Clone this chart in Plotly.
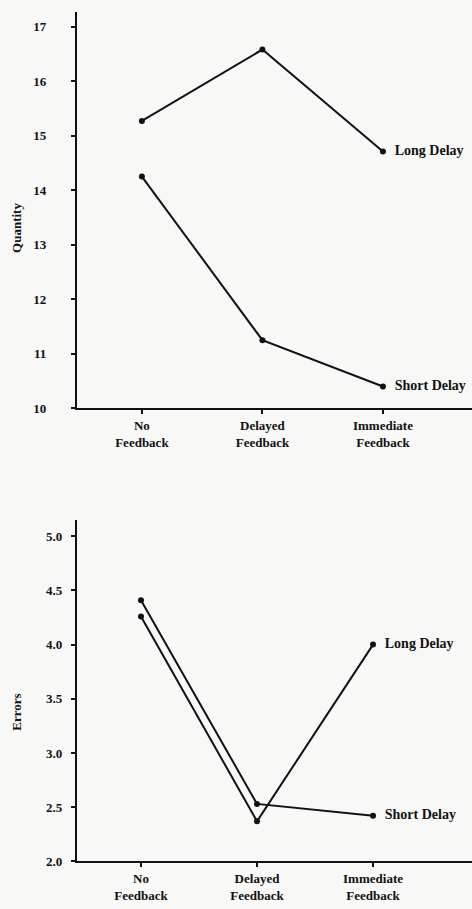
import plotly.graph_objects as go

categories = ['No<br>Feedback', 'Delayed<br>Feedback', 'Immediate<br>Feedback']

# Top panel: Quantity
quantity_long = [15.27, 16.58, 14.71]
quantity_short = [14.25, 11.25, 10.40]
quantity_ticks = [10, 11, 12, 13, 14, 15, 16, 17]

# Bottom panel: Errors
errors_long = [4.26, 2.37, 4.00]
errors_short = [4.41, 2.53, 2.42]
errors_ticks = [2.0, 2.5, 3.0, 3.5, 4.0, 4.5, 5.0]

FONT = 'Liberation Serif'
INK = '#111111'


def series(y, label, xa, ya):
    return go.Scatter(
        x=categories, y=y,
        xaxis=xa, yaxis=ya,
        mode='lines+markers+text',
        line=dict(color=INK, width=2),
        marker=dict(color=INK, size=6),
        text=['', '', '\u00a0\u00a0' + label],
        textposition='middle right',
        textfont=dict(family=FONT, size=14, color=INK, weight='bold'),
        cliponaxis=False,
        showlegend=False,
    )


fig = go.Figure()
fig.add_trace(series(quantity_long, 'Long Delay', 'x', 'y'))
fig.add_trace(series(quantity_short, 'Short Delay', 'x', 'y'))
fig.add_trace(series(errors_long, 'Long Delay', 'x2', 'y2'))
fig.add_trace(series(errors_short, 'Short Delay', 'x2', 'y2'))

tickfont = dict(family=FONT, size=13, color=INK, weight='bold')
top_xr = [-0.539, 2.739]
top_yr = [10, 17.27]
bot_xr = [-0.552, 2.853]
bot_yr = [2.0, 5.146]

common_x = dict(type='category', showline=True, linecolor=INK, linewidth=2,
                ticks='outside', ticklen=4, tickwidth=2, tickcolor=INK,
                showgrid=False, zeroline=False, tickfont=tickfont, fixedrange=True)
common_y = dict(showline=True, linecolor=INK, linewidth=2,
                ticks='outside', ticklen=4, tickwidth=2, tickcolor=INK,
                showgrid=False, zeroline=False, tickfont=tickfont, fixedrange=True)
# overlay axes give the ticks a second half on the inner side
inner = dict(showline=False, ticks='inside', ticklen=4, tickwidth=2, tickcolor=INK,
             showticklabels=False, showgrid=False, zeroline=False, fixedrange=True)

fig.update_layout(
    width=472, height=909,
    margin=dict(l=0, r=0, t=0, b=0),
    paper_bgcolor='#f8f8f6',
    plot_bgcolor='#f8f8f6',
    font=dict(family=FONT, color=INK),
    xaxis=dict(common_x, domain=[0.163, 1], anchor='y', range=top_xr),
    yaxis=dict(common_y, domain=[0.5468, 0.9868], anchor='x', range=top_yr,
               tickvals=quantity_ticks, ticklabelstandoff=22),
    xaxis2=dict(common_x, domain=[0.163, 1], anchor='y2', range=bot_xr),
    yaxis2=dict(common_y, domain=[0.0440, 0.4224], anchor='x2', range=bot_yr,
                tickvals=errors_ticks, tickformat='.1f', ticklabelstandoff=6),
    xaxis3=dict(inner, overlaying='x', anchor='y', range=top_xr, tickvals=[0, 1, 2]),
    yaxis3=dict(inner, overlaying='y', anchor='x', range=top_yr, tickvals=quantity_ticks),
    xaxis4=dict(inner, overlaying='x2', anchor='y2', range=bot_xr, tickvals=[0, 1, 2]),
    yaxis4=dict(inner, overlaying='y2', anchor='x2', range=bot_yr, tickvals=errors_ticks),
    annotations=[
        dict(text='Quantity', x=0.036, y=0.747, xref='paper', yref='paper',
             xanchor='center', yanchor='middle', textangle=-90, showarrow=False,
             font=dict(family=FONT, size=13, color=INK, weight='bold')),
        dict(text='Errors', x=0.036, y=0.21, xref='paper', yref='paper',
             xanchor='center', yanchor='middle', textangle=-90, showarrow=False,
             font=dict(family=FONT, size=13, color=INK, weight='bold')),
    ],
)

fig.write_html('out.html', config={'displayModeBar': False},
               post_script="document.body.style.margin='0';")
